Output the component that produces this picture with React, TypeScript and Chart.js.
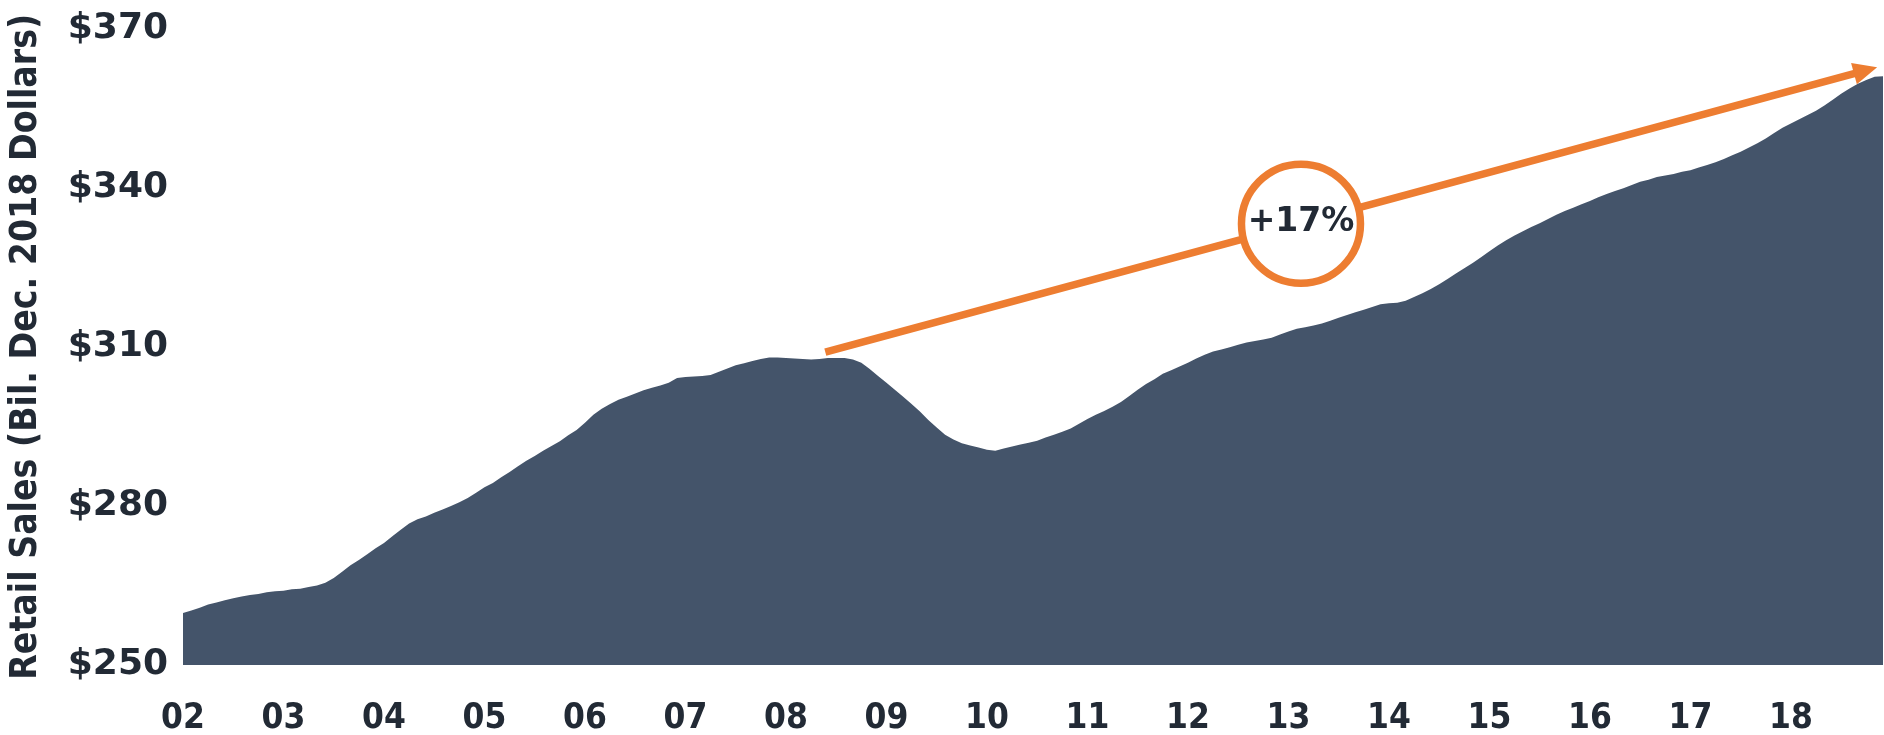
import { useEffect, useRef } from 'react';
import { Chart, registerables } from 'chart.js';

Chart.register(...registerables);

// Year tick labels (one tick every January, 2002..2018)
const yearLabels: string[] = ['02', '03', '04', '05', '06', '07', '08', '09', '10', '11', '12', '13', '14', '15', '16', '17', '18'];

// Monthly retail sales, Jan 2002 .. Dec 2018 (billions, Dec. 2018 dollars)
const sales2002 = [259.8, 260.3, 260.8, 261.4, 261.8, 262.2, 262.6, 262.9, 263.2, 263.4, 263.7, 263.9];
const sales2003 = [264.0, 264.3, 264.4, 264.7, 265.0, 265.5, 266.4, 267.6, 268.8, 269.8, 270.9, 272.0];
const sales2004 = [273.0, 274.3, 275.5, 276.7, 277.5, 278.0, 278.7, 279.3, 280.0, 280.7, 281.5, 282.5];
const sales2005 = [283.5, 284.3, 285.4, 286.4, 287.5, 288.5, 289.4, 290.4, 291.3, 292.2, 293.3, 294.3];
const sales2006 = [295.7, 297.2, 298.3, 299.2, 300.0, 300.6, 301.2, 301.8, 302.3, 302.7, 303.2, 304.1];
const sales2007 = [304.3, 304.4, 304.5, 304.7, 305.3, 305.9, 306.5, 306.9, 307.3, 307.7, 308.0, 308.0];
const sales2008 = [307.9, 307.8, 307.7, 307.6, 307.7, 307.9, 307.9, 307.9, 307.6, 307.0, 305.8, 304.5];
const sales2009 = [303.2, 301.9, 300.6, 299.2, 297.8, 296.2, 294.8, 293.4, 292.5, 291.8, 291.4, 291.0];
const sales2010 = [290.6, 290.4, 290.8, 291.2, 291.6, 291.9, 292.3, 292.9, 293.4, 294.0, 294.6, 295.5];
const sales2011 = [296.4, 297.2, 297.9, 298.7, 299.6, 300.7, 301.9, 303.0, 303.9, 304.9, 305.6, 306.3];
const sales2012 = [307.0, 307.8, 308.5, 309.1, 309.5, 309.9, 310.4, 310.8, 311.1, 311.4, 311.7, 312.3];
const sales2013 = [312.9, 313.4, 313.7, 314.0, 314.4, 314.9, 315.5, 316.0, 316.5, 317.0, 317.5, 318.0];
const sales2014 = [318.2, 318.3, 318.7, 319.4, 320.1, 320.9, 321.8, 322.8, 323.8, 324.8, 325.8, 326.9];
const sales2015 = [328.0, 329.1, 330.1, 331.0, 331.8, 332.6, 333.3, 334.1, 334.9, 335.6, 336.2, 336.9];
const sales2016 = [337.5, 338.2, 338.8, 339.4, 339.9, 340.5, 341.1, 341.5, 342.0, 342.3, 342.6, 343.0];
const sales2017 = [343.3, 343.8, 344.3, 344.8, 345.4, 346.1, 346.8, 347.6, 348.4, 349.3, 350.3, 351.3];
const sales2018 = [352.1, 352.9, 353.7, 354.5, 355.5, 356.6, 357.7, 358.7, 359.6, 360.3, 360.9, 361.0];

const retailSales: number[] = [
  ...sales2002, ...sales2003, ...sales2004, ...sales2005, ...sales2006, ...sales2007,
  ...sales2008, ...sales2009, ...sales2010, ...sales2011, ...sales2012, ...sales2013,
  ...sales2014, ...sales2015, ...sales2016, ...sales2017, ...sales2018,
];

const yMin = 250;
const yMax = 370;
const yStep = 30;
const axisTitle = 'Retail Sales (Bil. Dec. 2018 Dollars)';

// Annotation anchors in data space (month index, value)
const growthLabel = '+17%';
const arrowFrom = { month: 76.7, value: 309.0 };
const arrowTo = { month: 202.3, value: 362.7 };
const badgeAt = { month: 133.5, value: 333.2 };

const FILL = '#44546A';
const TEXT = '#222A35';
const ORANGE = '#ED7D31';

const growthPlugin = {
  id: 'growthArrow',
  afterDatasetsDraw(chart: any) {
    const { ctx, scales } = chart;
    const xs = scales.x;
    const ys = scales.y;
    const x1 = xs.getPixelForValue(arrowFrom.month);
    const y1 = ys.getPixelForValue(arrowFrom.value);
    const x2 = xs.getPixelForValue(arrowTo.month);
    const y2 = ys.getPixelForValue(arrowTo.value);
    const ang = Math.atan2(y2 - y1, x2 - x1);
    const headLen = 24;
    const headHalf = 11;
    const bx = x2 - headLen * Math.cos(ang);
    const by = y2 - headLen * Math.sin(ang);
    ctx.save();
    ctx.strokeStyle = ORANGE;
    ctx.fillStyle = ORANGE;
    ctx.lineWidth = 7.5;
    ctx.lineCap = 'butt';
    ctx.beginPath();
    ctx.moveTo(x1, y1);
    ctx.lineTo(bx + Math.cos(ang), by + Math.sin(ang));
    ctx.stroke();
    ctx.beginPath();
    ctx.moveTo(x2, y2);
    ctx.lineTo(bx - headHalf * Math.sin(ang), by + headHalf * Math.cos(ang));
    ctx.lineTo(bx + headHalf * Math.sin(ang), by - headHalf * Math.cos(ang));
    ctx.closePath();
    ctx.fill();

    const cx = xs.getPixelForValue(badgeAt.month);
    const cy = ys.getPixelForValue(badgeAt.value);
    ctx.beginPath();
    ctx.arc(cx, cy, 59.5, 0, Math.PI * 2);
    ctx.fillStyle = '#ffffff';
    ctx.fill();
    ctx.lineWidth = 7.5;
    ctx.strokeStyle = ORANGE;
    ctx.stroke();
    ctx.fillStyle = TEXT;
    ctx.font = 'bold 33px "DejaVu Sans"';
    ctx.textAlign = 'center';
    ctx.textBaseline = 'middle';
    ctx.fillText(growthLabel, cx, cy - 1);
    ctx.restore();
  },
};

export default function App() {
  const canvasRef = useRef<HTMLCanvasElement | null>(null);

  useEffect(() => {
    document.body.style.margin = '0';
    const canvas = canvasRef.current;
    if (!canvas) return;
    const points = retailSales.map((v, i) => ({ x: i, y: v }));
    const chart = new Chart(canvas, {
      type: 'line',
      data: {
        datasets: [
          {
            data: points,
            borderWidth: 0,
            borderColor: FILL,
            backgroundColor: FILL,
            fill: 'start',
            pointRadius: 0,
            tension: 0,
          },
        ],
      },
      options: {
        animation: false,
        responsive: false,
        devicePixelRatio: 1,
        layout: { padding: { top: 24, right: 1, bottom: 0, left: 0 } },
        plugins: {
          legend: { display: false },
          tooltip: { enabled: false },
        },
        scales: {
          x: {
            type: 'linear',
            min: 0,
            max: retailSales.length - 1,
            grid: { display: false },
            border: { display: false },
            ticks: {
              stepSize: 12,
              maxTicksLimit: 30,
              includeBounds: false,
              autoSkip: false,
              maxRotation: 0,
              padding: 25,
              color: TEXT,
              font: { family: 'DejaVu Sans Condensed', weight: 'bold', size: 35 },
              callback: (v: any) => {
                const idx = Number(v) / 12;
                return Number.isInteger(idx) && yearLabels[idx] ? yearLabels[idx] : '';
              },
            },
            afterFit: (s: any) => {
              s.height = 70;
            },
          },
          y: {
            type: 'linear',
            min: yMin,
            max: yMax,
            grid: { display: false },
            border: { display: false },
            ticks: {
              stepSize: yStep,
              padding: 7,
              color: TEXT,
              font: { family: 'DejaVu Sans', weight: 'bold', size: 36 },
              callback: (v: any) => '$' + v,
            },
            title: {
              display: true,
              text: axisTitle,
              color: TEXT,
              font: { family: 'DejaVu Sans Condensed', weight: 'bold', size: 37 },
              padding: { top: 4, bottom: 0 },
            },
            afterFit: (s: any) => {
              s.width = 183;
            },
          },
        },
      },
      plugins: [growthPlugin],
    });
    return () => chart.destroy();
  }, []);

  return <canvas ref={canvasRef} width={1884} height={735} style={{ display: 'block' }} />;
}
